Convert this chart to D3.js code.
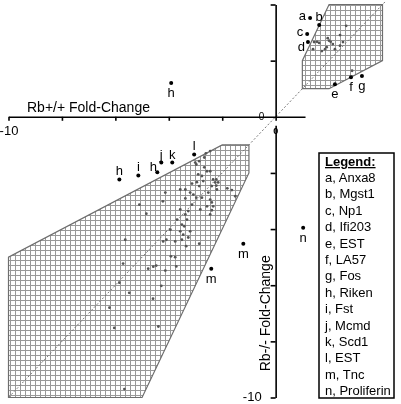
<!DOCTYPE html>
<html>
<head>
<meta charset="utf-8">
<script src="https://cdn.jsdelivr.net/npm/d3@7"></script>
<style>
  body { margin: 0; background: #fff; }
  svg { display: block; font-family: "Liberation Sans", Arial, sans-serif; will-change: transform; }
</style>
</head>
<body>
<div id="chart"></div>
<script>
// fold-change values, Rb+/+ (x) vs Rb-/- (y)
var lowerDots = [
  [-2.61,-1.30],[-2.45,-1.22],[-2.97,-1.70],[-2.86,-1.58],[-2.67,-1.80],[-2.57,-1.94],[-2.45,-1.94],
  [-2.22,-2.23],[-2.26,-2.34],[-2.15,-2.34],[-2.22,-2.45],[-2.34,-2.23],[-2.71,-2.29],[-2.95,-2.33],
  [-3.13,-2.38],[-2.86,-2.47],[-2.39,-2.47],[-2.20,-2.59],[-3.57,-2.59],[-3.38,-2.59],[-3.20,-2.70],
  [-4.13,-2.70],[-2.52,-2.70],[-3.38,-2.91],[-2.97,-2.88],[-2.76,-2.88],[-2.45,-2.95],[-2.39,-3.05],
  [-2.34,-3.19],[-4.22,-3.01],[-3.13,-3.13],[-2.57,-3.19],[-5.10,-3.13],[-3.57,-3.30],[-3.27,-3.36],
  [-2.82,-3.30],[-2.39,-3.33],[-4.84,-3.45],[-3.38,-3.48],[-2.45,-3.48],[-3.69,-3.66],[-3.32,-3.66],
  [-3.51,-3.84],[-3.42,-3.90],[-3.94,-4.02],[-3.57,-4.08],[-3.20,-4.08],[-3.46,-4.20],[-5.63,-4.38],
  [-3.51,-4.38],[-4.09,-4.38],[-3.27,-4.30],[-2.86,-4.52],[-3.35,-4.61],[-3.92,-4.97],[-3.76,-5.00],
  [-3.72,-5.33],[-5.71,-5.23],[-4.77,-5.41],[-4.58,-5.34],[-4.47,-5.30],[-4.13,-5.48],[-5.85,-5.91],
  [-4.28,-6.02],[-5.48,-6.27],[-4.59,-6.48],[-6.22,-6.80],[-6.04,-7.52],[-4.39,-7.47],[-5.66,-9.70],
  [-1.81,-2.55],[-1.64,-2.61],[-1.51,-2.83],[-3.01,-1.63],[-2.90,-2.05],[-2.76,-2.11],[-3.08,-2.77],
  [-2.67,-1.45],[-4.21,-4.44],[-3.76,-4.44]
];
var upperDots = [
  [2.64,3.24],[2.41,2.91],[1.44,2.66],[1.55,2.67],[1.63,2.63],[1.95,2.80],[2.00,2.71],[2.06,2.67],
  [2.14,2.59],[1.91,2.48],[1.85,2.41],[1.40,2.41],[1.73,2.34],[2.41,2.53],[2.86,1.64],[2.22,2.41],
  [2.52,2.66]
];

// labelled genes
var geneKeys = ["a","b","c","d","e","f","g","h","h","i","h","j","k","l","m","m","n"];
var geneX    = [1.29,1.63,1.18,1.21,2.22,2.82,3.23,-3.91,-5.85,-5.14,-4.43,-4.28,-3.87,-3.05,-1.21,-2.41,1.03];
var geneY    = [3.52,3.27,2.95,2.66,1.16,1.41,1.45,1.20,-2.23,-2.09,-1.98,-1.63,-1.63,-1.34,-4.52,-5.41,-3.95];
var geneSide = ["left","above","left","lowleft","below","below","below","below","above","above","upleft","above","above","above","below","below","below"];

// two-fold regions
var lowerRegion = [[-10,-10],[-5,-10],[-1,-2],[-1,-1],[-2,-1],[-10,-5]];
var upperRegion = [[1,1],[2,1],[4,2],[4,4],[2,4],[1,2]];

var legendKeys  = ["a","b","c","d","e","f","g","h","i","j","k","l","m","n"];
var legendGenes = ["Anxa8","Mgst1","Np1","Ifi203","EST","LA57","Fos","Riken","Fst","Mcmd","Scd1","EST","Tnc","Proliferin"];

var xTicks = [-10,-8,-6,-4,-2,0];
var yPosTicks = [2,4];
var yNegTicks = [-10,-8,-6,-4,-2];

var width = 401, height = 404;

var svg = d3.select("#chart").append("svg")
    .attr("width", width)
    .attr("height", height);

var x = d3.scaleLinear().domain([-10, 4]).range([8.5, 382.5]);
var y = d3.scaleLinear().domain([-10, 4]).range([397.5, 4.5]);

// grid hatch
var defs = svg.append("defs");
defs.append("pattern")
    .attr("id", "grid")
    .attr("patternUnits", "userSpaceOnUse")
    .attr("width", 5)
    .attr("height", 5)
  .append("path")
    .attr("d", "M0,0.5H5M0.5,0V5")
    .attr("stroke", "#999")
    .attr("stroke-width", 1)
    .attr("fill", "none");

var line = d3.line().x(function(d) { return x(d[0]); }).y(function(d) { return y(d[1]); });

svg.selectAll("path.region")
    .data([lowerRegion, upperRegion])
    .enter().append("path")
    .attr("class", "region")
    .attr("d", function(d) { return line(d) + "Z"; })
    .attr("fill", "url(#grid)")
    .attr("stroke", "#6e6e6e")
    .attr("stroke-width", 1.2);

// y = x diagonal
svg.append("path")
    .attr("d", line([[-10,-10],[4.1,4.1]]))
    .attr("stroke", "#777")
    .attr("stroke-width", 1)
    .attr("stroke-dasharray", "2,2")
    .attr("fill", "none");

// AXES
var xAxisScale = x.copy().domain([-10, 1.1]).range([x(-10), x(1.1)]);
var gx = svg.append("g")
    .attr("transform", "translate(0," + y(0) + ")")
    .call(d3.axisBottom(xAxisScale).tickValues(xTicks).tickSize(4).tickSizeOuter(0).tickPadding(5)
        .tickFormat(function(d) { return d === -10 ? "-10" : ""; }));

var yPos = y.copy().domain([0, 4]).range([y(0), y(4)]);
var gyp = svg.append("g")
    .attr("transform", "translate(" + x(0) + ",0)")
    .call(d3.axisLeft(yPos).tickValues(yPosTicks).tickSize(5).tickSizeOuter(0).tickFormat(""));

var yNeg = y.copy().domain([-10, -0.3]).range([y(-10), y(-0.3)]);
var gyn = svg.append("g")
    .attr("transform", "translate(" + x(0) + ",0)")
    .call(d3.axisLeft(yNeg).tickValues(yNegTicks).tickSize(5).tickSizeOuter(0).tickPadding(9)
        .tickFormat(function(d) { return d === -10 ? "-10" : ""; }));

[gx, gyp, gyn].forEach(function(g) {
    g.selectAll("path.domain, line").attr("stroke", "#000").attr("stroke-width", 1.6);
    g.selectAll("text").attr("fill", "#000").style("font-size", "13px")
        .style("font-family", "'Liberation Sans', Arial, sans-serif");
});
gyn.selectAll("text").attr("dy", "0.2em");

// zero marks
svg.append("text")
    .attr("x", x(0) - 14)
    .attr("y", y(0))
    .attr("dy", "0.35em")
    .attr("text-anchor", "middle")
    .style("font-size", "10px")
    .text("0");
svg.append("text")
    .attr("x", x(0))
    .attr("y", y(0) + 14)
    .attr("dy", "0.35em")
    .attr("text-anchor", "middle")
    .style("font-size", "9px")
    .style("font-weight", "bold")
    .text("0");

// axis titles
svg.append("text")
    .attr("x", 27)
    .attr("y", 112)
    .style("font-size", "14px")
    .text("Rb+/+ Fold-Change");

svg.append("text")
    .attr("transform", "translate(270," + ((y(-4.9) + y(-9.1)) / 2) + ") rotate(-90)")
    .attr("text-anchor", "middle")
    .style("font-size", "14px")
    .text("Rb-/- Fold-Change");

// DOTS
svg.selectAll("circle.gray")
    .data(lowerDots.concat(upperDots))
    .enter().append("circle")
    .attr("class", "gray")
    .attr("cx", function(d) { return x(d[0]); })
    .attr("cy", function(d) { return y(d[1]); })
    .attr("r", 1.4)
    .attr("fill", "#555");

var genes = geneKeys.map(function(k, i) {
    return {key: k, x: geneX[i], y: geneY[i], side: geneSide[i]};
});

svg.selectAll("circle.gene")
    .data(genes)
    .enter().append("circle")
    .attr("class", "gene")
    .attr("cx", function(d) { return x(d.x); })
    .attr("cy", function(d) { return y(d.y); })
    .attr("r", 2)
    .attr("fill", "#000");

var labelOffset = {
    left:    {dx: -4, dy: 2.5, anchor: "end"},
    above:   {dx: 0,  dy: -4,  anchor: "middle"},
    below:   {dx: 0,  dy: 14,  anchor: "middle"},
    lowleft: {dx: -3, dy: 9,   anchor: "end"},
    upleft:  {dx: -4, dy: -1,  anchor: "middle"}
};

svg.selectAll("text.gene")
    .data(genes)
    .enter().append("text")
    .attr("class", "gene")
    .attr("x", function(d) { return x(d.x) + labelOffset[d.side].dx; })
    .attr("y", function(d) { return y(d.y) + labelOffset[d.side].dy; })
    .attr("text-anchor", function(d) { return labelOffset[d.side].anchor; })
    .attr("fill", "#000")
    .style("font-size", "13px")
    .text(function(d) { return d.key; });

// LEGEND
var legend = svg.append("g").attr("transform", "translate(319,153)");
legend.append("rect")
    .attr("width", 75)
    .attr("height", 245)
    .attr("fill", "#fff")
    .attr("stroke", "#000")
    .attr("stroke-width", 1.5);
legend.append("text")
    .attr("x", 6)
    .attr("y", 13)
    .style("font-size", "13px")
    .style("font-weight", "bold")
    .style("text-decoration", "underline")
    .text("Legend:");
legend.selectAll("text.row")
    .data(legendKeys)
    .enter().append("text")
    .attr("class", "row")
    .attr("x", 6)
    .attr("y", function(d, i) { return 29 + i * 16.4; })
    .style("font-size", "13px")
    .text(function(d, i) { return d + ", " + legendGenes[i]; });
</script>
</body>
</html>
